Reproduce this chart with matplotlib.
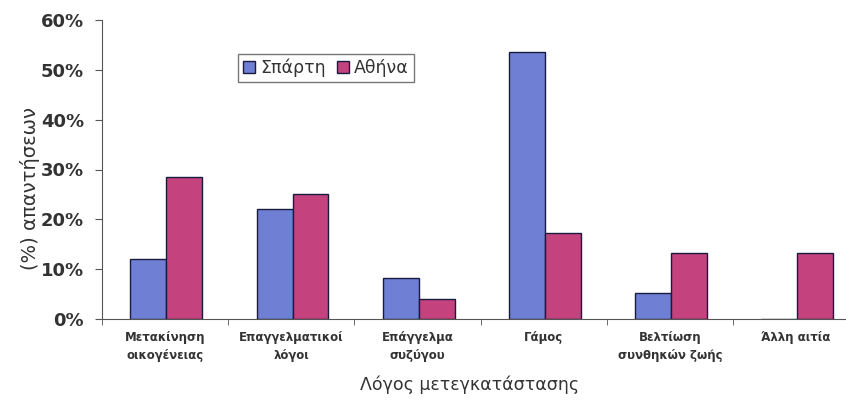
import numpy as np
import matplotlib.pyplot as plt
from matplotlib.ticker import FixedLocator, PercentFormatter

# categories and values (% of responses)
categories = ['Μετακίνηση\nοικογένειας', 'Επαγγελματικοί\nλόγοι', 'Επάγγελμα\nσυζύγου',
              'Γάμος', 'Βελτίωση\nσυνθηκών ζωής', 'Άλλη αιτία']
sparti = [12.0, 22.1, 8.3, 53.6, 5.2, 0.0]
athina = [28.5, 25.0, 4.1, 17.3, 13.3, 13.3]

blue = '#6f7fd4'
pink = '#c4437f'

fig = plt.figure(figsize=(8.46, 4.0), dpi=100)
ax = fig.add_axes([102 / 846, 81 / 400, 757 / 846, 299 / 400])

x = np.arange(len(categories))
w = 0.285
ax.bar(x - w / 2 + 0.01, sparti, w, color=blue, edgecolor='#1a1a40', linewidth=1.0, label='Σπάρτη')
ax.bar(x + w / 2 + 0.01, athina, w, color=pink, edgecolor='#1a1a40', linewidth=1.0, label='Αθήνα')

ax.set_xlim(-0.5, 5.5)
ax.set_ylim(0, 60)
ax.set_yticks(range(0, 61, 10))
ax.yaxis.set_major_formatter(PercentFormatter(decimals=0))

ax.set_xticks(x)
ax.set_xticklabels(categories, fontsize=8.5, fontweight='bold', color='#333333', linespacing=1.5)
ax.xaxis.set_minor_locator(FixedLocator(np.arange(-0.5, 6, 1)))
ax.tick_params(axis='x', which='major', length=0, pad=9)
ax.tick_params(axis='x', which='minor', length=4, color='#555555')
ax.tick_params(axis='y', length=5, color='#555555', labelsize=13, labelcolor='#333333', pad=8)
for t in ax.get_yticklabels():
    t.set_fontweight('semibold')

for s in ['top', 'right']:
    ax.spines[s].set_visible(False)
ax.spines['left'].set_color('#555555')
ax.spines['bottom'].set_color('#555555')

ax.set_ylabel('(%) απαντήσεων', fontsize=14, color='#333333')
ax.yaxis.set_label_coords((40 - 102) / 757, (319 - 188) / 299)
ax.set_xlabel('Λόγος μετεγκατάστασης', fontsize=12.5, color='#333333')
ax.xaxis.set_label_coords((470 - 102) / 757, -0.19)

leg = ax.legend(loc='center', bbox_to_anchor=((326 - 102) / 757, (319 - 68) / 299),
                ncol=2, fontsize=12.5, frameon=True, fancybox=False, edgecolor='#555555',
                handlelength=0.7, handleheight=0.7, handletextpad=0.3, columnspacing=0.6,
                borderpad=0.3)
for t in leg.get_texts():
    t.set_color('#333333')

fig.savefig('out.png', dpi=100)
